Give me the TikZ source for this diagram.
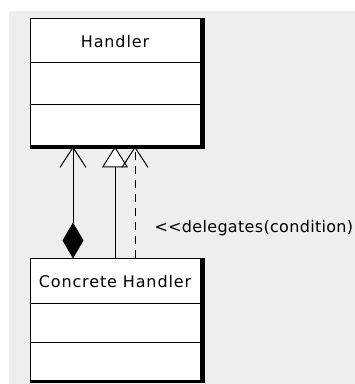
\documentclass[tikz,border=0pt]{standalone}
\usepackage{fontspec}
\newfontfamily\umlfont[LetterSpace=5.4]{DejaVu Sans}
\newfontfamily\umlnotefont[LetterSpace=2]{DejaVu Sans}
\usetikzlibrary{arrows.meta,positioning}

\definecolor{canvas}{HTML}{EEEEEE}

% compartment rules and the heavy right/bottom edge of a class box
\newcommand{\classrules}[3]{%
  \draw ([yshift=-#2pt]#1.north west) -- ([yshift=-#2pt]#1.north east);
  \draw ([yshift=-#3pt]#1.north west) -- ([yshift=-#3pt]#1.north east);
  \fill (#1.north east) rectangle ([xshift=4pt,yshift=-3pt]#1.south east);
  \fill (#1.south west) rectangle ([xshift=4pt,yshift=-3pt]#1.south east);
}

\begin{document}
\begin{tikzpicture}[x=1pt,y=1pt,line width=1pt,node distance=237pt,>={Straight Barb[length=20pt,width=26pt]}]
		\tikzstyle{class}=[draw,fill=white,minimum width=170pt,inner sep=0pt]
		\tikzstyle{title}=[font=\umlfont\fontsize{16}{19}\selectfont,inner sep=0pt]
		\tikzstyle{note}=[font=\umlnotefont\fontsize{16}{19}\selectfont,inner sep=0pt]

		\fill[canvas] (9,0) rectangle (355,373);
		\useasboundingbox (0,0) rectangle (355,384);

		\node[class,minimum height=127pt] (handler) at (115,301.5) {};
		\node[class,minimum height=121pt] (concrete) [below of=handler] {};
		\classrules{handler}{44}{86}
		\classrules{concrete}{45}{84}

		\node[title] (handler name) at ([yshift=-23.5pt]handler.north) {Handler};
		\node[title] (concrete name) at ([yshift=-23.5pt]concrete.north) {Concrete Handler};

		% composition, generalization, dependency
		\draw[{Diamond[length=36pt,width=21pt]}->] ([xshift=-42pt]concrete.north) -- ([xshift=-42pt]handler.south);
		\draw[-{Triangle[open,fill=white,length=21pt,width=26pt]}] (concrete.north) -- (handler.south);
		\draw[->,dash pattern=on 8pt off 6pt] ([xshift=20pt]concrete.north) -- node[note,pos=0.27,anchor=west,xshift=19pt] (delegates) {<<delegates(condition)} ([xshift=20pt]handler.south);
	\end{tikzpicture}
\end{document}
